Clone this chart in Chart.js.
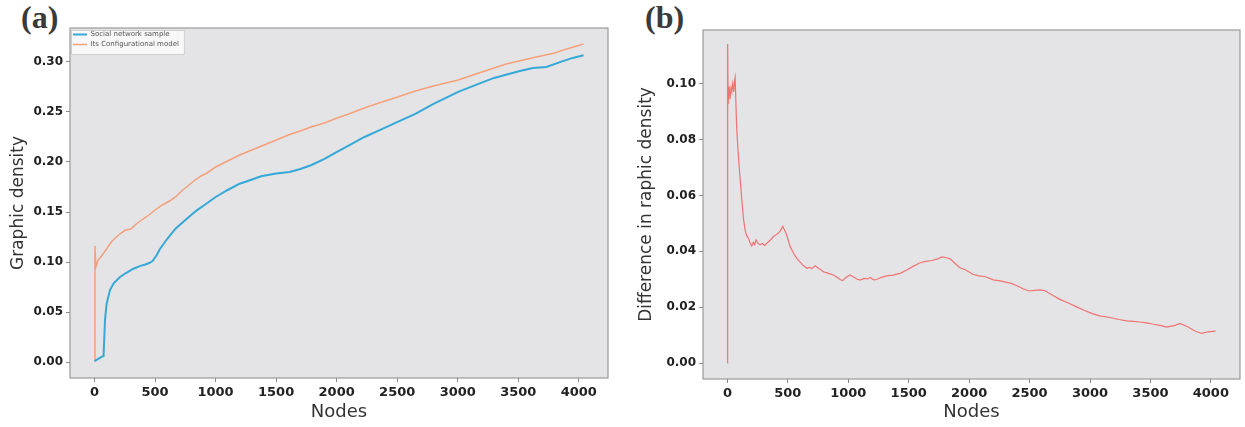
<!DOCTYPE html>
<html lang="en">
  <head>
    <meta charset="UTF-8" />
    <title>Graphic density</title>
    <style>
      body { margin: 0; background: #fff; width: 1245px; height: 427px; overflow: hidden; position: relative; }
      canvas { position: absolute; top: 0; }
      #chartA { left: 0; }
      #chartB { left: 622px; }
      .panel-tag { position: absolute; top: 1px; font: bold 32px "Liberation Serif", serif; color: #3a3a3a; line-height: 32px; }
    </style>
  </head>
  <body>
    <div class="panel-tag" style="left: 21px">(a)</div>
    <div class="panel-tag" style="left: 645px">(b)</div>
    <canvas id="chartA" width="620" height="427"></canvas>
    <canvas id="chartB" width="623" height="427"></canvas>

    <script src="https://cdn.jsdelivr.net/npm/chart.js@4.4.0/dist/chart.umd.min.js"></script>
    <script>
      // (a) social network sample
      const nodesSample = [0, 65, 75, 87, 100, 128, 160, 211, 260, 321, 380, 420, 452, 480, 513, 541, 600, 669, 760, 845, 920, 1001, 1100, 1199, 1290, 1375, 1500, 1611, 1700, 1788, 1900, 2003, 2110, 2230, 2360, 2504, 2650, 2800, 3004, 3150, 3300, 3505, 3620, 3732, 3850, 3950, 4039];
      const sampleDensity = [0.001, 0.0057, 0.006, 0.042, 0.058, 0.072, 0.079, 0.085, 0.089, 0.0933, 0.0962, 0.0975, 0.099, 0.101, 0.1067, 0.113, 0.123, 0.1333, 0.143, 0.1517, 0.158, 0.165, 0.172, 0.1783, 0.182, 0.1857, 0.1885, 0.19, 0.193, 0.1967, 0.203, 0.21, 0.217, 0.225, 0.232, 0.24, 0.248, 0.258, 0.27, 0.277, 0.284, 0.2907, 0.294, 0.295, 0.3, 0.304, 0.3067];

      // (a) its configurational model
      const nodesConfig = [0, 4, 12, 22, 30, 45, 70, 100, 138, 180, 220, 256, 300, 345, 400, 450, 501, 560, 620, 669, 720, 780, 831, 880, 930, 1001, 1100, 1199, 1300, 1400, 1502, 1600, 1700, 1788, 1900, 2003, 2100, 2250, 2400, 2504, 2650, 2800, 2900, 3004, 3150, 3300, 3400, 3505, 3650, 3800, 3900, 4039];
      const configDensity = [0.001, 0.116, 0.095, 0.099, 0.102, 0.104, 0.108, 0.113, 0.12, 0.125, 0.129, 0.132, 0.133, 0.138, 0.143, 0.147, 0.152, 0.157, 0.161, 0.165, 0.171, 0.177, 0.182, 0.186, 0.189, 0.195, 0.201, 0.207, 0.212, 0.217, 0.222, 0.227, 0.231, 0.235, 0.239, 0.244, 0.248, 0.255, 0.261, 0.265, 0.271, 0.276, 0.279, 0.282, 0.288, 0.294, 0.298, 0.301, 0.305, 0.309, 0.313, 0.318];

      // (b) difference in graphic density
      const nodesDiff = [0, 2, 6, 14, 22, 30, 36, 44, 52, 60, 64, 77, 88, 99, 119, 132, 146, 160, 174, 188, 201, 215, 225, 237, 250, 270, 290, 310, 326, 345, 365, 381, 400, 422, 440, 458, 470, 485, 500, 519, 545, 574, 600, 630, 657, 680, 700, 725, 750, 770, 794, 830, 877, 910, 935, 954, 980, 1015, 1040, 1070, 1098, 1130, 1160, 1180, 1210, 1235, 1270, 1318, 1370, 1429, 1480, 1540, 1590, 1640, 1690, 1740, 1775, 1815, 1845, 1880, 1920, 1972, 2030, 2080, 2136, 2200, 2260, 2301, 2350, 2400, 2450, 2498, 2540, 2590, 2629, 2690, 2751, 2820, 2890, 2950, 3014, 3080, 3165, 3240, 3303, 3360, 3413, 3470, 3524, 3580, 3634, 3703, 3744, 3800, 3868, 3924, 3979, 4039];
      const diffDensity = [0, 0.1142, 0.0926, 0.099, 0.0944, 0.0985, 0.0974, 0.1, 0.097, 0.1012, 0.1022, 0.0836, 0.076, 0.0693, 0.0585, 0.052, 0.0477, 0.0455, 0.0447, 0.043, 0.0419, 0.0432, 0.0424, 0.0441, 0.043, 0.0423, 0.0428, 0.042, 0.0429, 0.0436, 0.0445, 0.0453, 0.0458, 0.0465, 0.0475, 0.0489, 0.0478, 0.0465, 0.0445, 0.0417, 0.0395, 0.0375, 0.0362, 0.0348, 0.0339, 0.0342, 0.0338, 0.0348, 0.034, 0.0335, 0.0327, 0.0322, 0.0315, 0.0306, 0.0298, 0.0295, 0.0306, 0.0315, 0.0309, 0.0301, 0.0297, 0.0303, 0.0301, 0.0306, 0.0298, 0.0299, 0.0306, 0.0312, 0.0315, 0.0321, 0.0332, 0.0347, 0.0358, 0.0364, 0.0367, 0.0373, 0.038, 0.0377, 0.0372, 0.0358, 0.0342, 0.0333, 0.0318, 0.0312, 0.0309, 0.0298, 0.0294, 0.029, 0.0285, 0.0276, 0.0265, 0.0258, 0.026, 0.0262, 0.0259, 0.0243, 0.0228, 0.0215, 0.0201, 0.0189, 0.0178, 0.0169, 0.0163, 0.0156, 0.0151, 0.0149, 0.0147, 0.0144, 0.0139, 0.0135, 0.0129, 0.0135, 0.0142, 0.0132, 0.0115, 0.0106, 0.0112, 0.0114];

      // tick labels
      const xTicks = [0, 500, 1000, 1500, 2000, 2500, 3000, 3500, 4000];
      const yTicksA = [0, 0.05, 0.1, 0.15, 0.2, 0.25, 0.3];
      const yTicksB = [0, 0.02, 0.04, 0.06, 0.08, 0.1];

      const toPoints = (xs, ys) => xs.map((x, i) => ({ x: x, y: ys[i] }));
      const legendFont = { family: "DejaVu Sans", size: 7 };

      // grey plot background, frame and legend box (matplotlib look)
      const plotFrame = {
        id: "plotFrame",
        afterLayout(chart) {
          // the chartArea legend loses its top offset, put it back in the corner
          const lg = chart.legend;
          if (lg && lg.options.display) {
            const a = chart.chartArea;
            lg.left = a.left;
            lg.top = a.top;
            lg.right = a.right;
            lg.bottom = a.bottom;
            if (lg.adjustHitBoxes) lg.adjustHitBoxes();
          }
        },
        beforeDraw(chart) {
          const { ctx, chartArea: a } = chart;
          ctx.save();
          ctx.fillStyle = "#e4e4e7";
          ctx.fillRect(a.left, a.top, a.width, a.height);
          const lg = chart.legend;
          if (lg && lg.options.display && lg.legendItems && lg.legendItems.length) {
            ctx.font = legendFont.size + "px " + legendFont.family;
            let textW = 0;
            lg.legendItems.forEach((it) => { textW = Math.max(textW, ctx.measureText(it.text).width); });
            const n = lg.legendItems.length;
            const l = a.left + 1.5, t = a.top + 2.5;
            const w = 3 + 14 + legendFont.size / 2 + textW + 4;
            const h = n * (legendFont.size + 3) + 4;
            ctx.fillStyle = "rgba(255,255,255,0.75)";
            ctx.strokeStyle = "#d0d0d0";
            ctx.lineWidth = 1;
            ctx.fillRect(l, t, w, h);
            ctx.strokeRect(l, t, w, h);
          }
          ctx.restore();
        },
        afterDatasetsDraw(chart) {
          const { ctx, chartArea: a } = chart;
          ctx.save();
          ctx.strokeStyle = "#9a9a9a";
          ctx.lineWidth = 1.2;
          ctx.strokeRect(a.left, a.top, a.width, a.height);
          ctx.restore();
        },
      };

      const tickFont = { family: "DejaVu Sans", size: 12, weight: "bold" };
      const titleFont = { family: "DejaVu Sans", size: 17 };

      function xAxis(height) {
        return {
          type: "linear",
          min: -202,
          max: 4241,
          afterBuildTicks: (s) => { s.ticks = xTicks.map((v) => ({ value: v })); },
          afterFit: (s) => { s.height = height; },
          ticks: { font: { ...tickFont, size: 13 }, color: "#222", padding: 3, autoSkip: false, maxRotation: 0, callback: (v) => String(v) },
          grid: { drawOnChartArea: false, drawTicks: true, tickLength: 4, color: "#8a8a8a" },
          border: { display: false },
          title: { display: true, text: "Nodes", font: { ...titleFont, size: 18 }, color: "#333", padding: { top: 0, bottom: 4 } },
        };
      }

      function yAxis(min, max, ticks, width, title, titlePad) {
        return {
          min: min,
          max: max,
          afterBuildTicks: (s) => { s.ticks = ticks.map((v) => ({ value: v })); },
          afterFit: (s) => { s.width = width; },
          ticks: { font: tickFont, color: "#222", padding: 3, autoSkip: false, callback: (v) => v.toFixed(2) },
          grid: { drawOnChartArea: false, drawTicks: true, tickLength: 4, color: "#8a8a8a" },
          border: { display: false },
          title: { display: true, text: title, font: titleFont, color: "#333", padding: { top: titlePad, bottom: 0 } },
        };
      }

      new Chart(document.getElementById("chartA").getContext("2d"), {
        type: "line",
        data: {
          datasets: [
            {
              label: "Social network sample",
              data: toPoints(nodesSample, sampleDensity),
              borderColor: "#36a8d6",
              borderWidth: 2,
              pointRadius: 0,
              tension: 0,
            },
            {
              label: "Its Configurational model",
              data: toPoints(nodesConfig, configDensity),
              borderColor: "#f4a07a",
              borderWidth: 1.5,
              pointRadius: 0,
              tension: 0,
            },
          ],
        },
        options: {
          responsive: false,
          animation: false,
          layout: { padding: { left: 0, top: 28, right: 12, bottom: 0 } },
          plugins: {
            legend: {
              position: "chartArea",
              align: "start",
              labels: {
                usePointStyle: true,
                pointStyle: "line",
                pointStyleWidth: 14,
                boxHeight: 7,
                padding: 3,
                color: "#555",
                font: legendFont,
              },
            },
            tooltip: { enabled: false },
          },
          scales: {
            x: xAxis(49),
            y: yAxis(-0.0159, 0.3339, yTicksA, 70, "Graphic density", 8),
          },
        },
        plugins: [plotFrame],
      });

      new Chart(document.getElementById("chartB").getContext("2d"), {
        type: "line",
        data: {
          datasets: [
            {
              label: "Difference",
              data: toPoints(nodesDiff, diffDensity),
              borderColor: "#f07272",
              borderWidth: 1.2,
              pointRadius: 0,
              tension: 0,
            },
          ],
        },
        options: {
          responsive: false,
          animation: false,
          layout: { padding: { left: 0, top: 30, right: 5, bottom: 0 } },
          plugins: {
            legend: { display: false },
            tooltip: { enabled: false },
          },
          scales: {
            x: xAxis(48),
            y: yAxis(-0.0057, 0.1192, yTicksB, 81, "Difference in raphic density", 14),
          },
        },
        plugins: [plotFrame],
      });
    </script>
  </body>
</html>
